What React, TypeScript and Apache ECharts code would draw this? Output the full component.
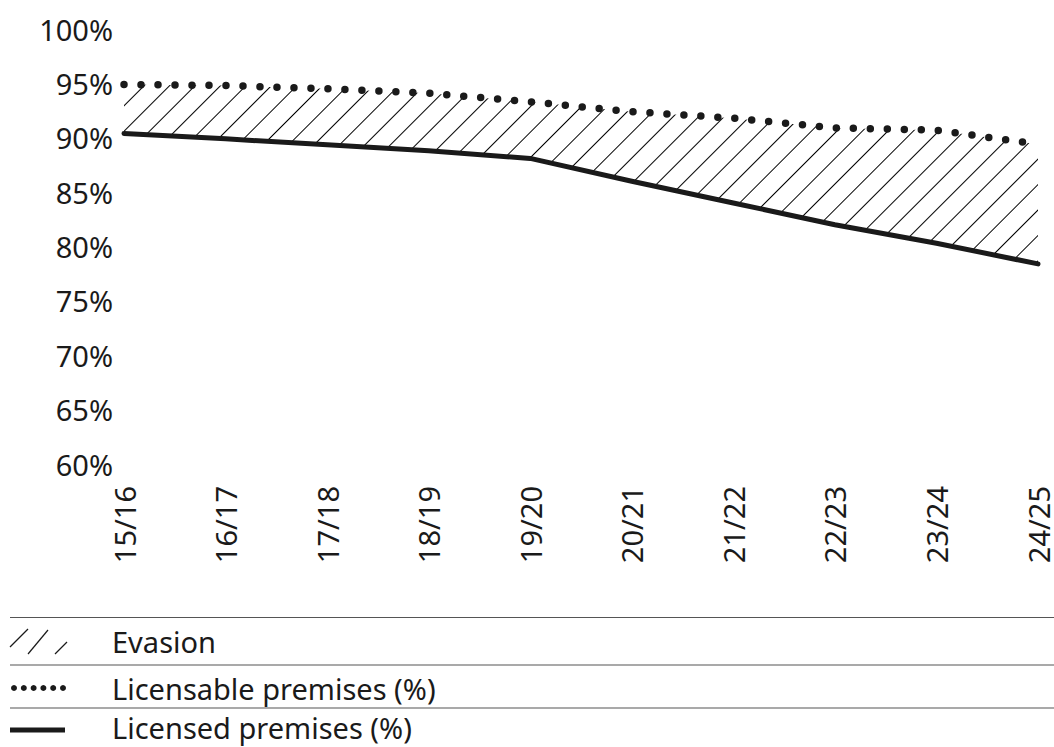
import React, { useEffect, useRef } from "react";
import * as echarts from "echarts";

const categories = ["15/16", "16/17", "17/18", "18/19", "19/20", "20/21", "21/22", "22/23", "23/24", "24/25"];
const licensable = [94.9, 94.8, 94.5, 94.1, 93.3, 92.4, 91.8, 90.9, 90.7, 89.4];
const licensed = [90.4, 89.9, 89.35, 88.8, 88.1, 86.0, 84.0, 82.0, 80.3, 78.4];
const legendLabels = ["Evasion", "Licensable premises (%)", "Licensed premises (%)"];

const FONT = "'Noto Sans', 'Open Sans', sans-serif";
const INK = "#1a1a1a";

export default function App() {
  const ref = useRef<HTMLDivElement>(null);
  useEffect(() => {
    document.body.style.margin = "0";
    const chart = echarts.init(ref.current!, null, { renderer: "svg" });
    const gap = licensable.map((v, i) => Math.round((v - licensed[i]) * 100) / 100);
    const legendY = [641, 688, 730];
    const legendTextY = [641, 688, 727.5];
    const sepY = [617.5, 665, 708];
    const graphics: any[] = [];
    sepY.forEach((y) =>
      graphics.push({ type: "line", shape: { x1: 10, y1: y, x2: 1054, y2: y }, style: { stroke: "#555", lineWidth: 1.2 } })
    );
    // hatch symbol
    graphics.push({ type: "line", shape: { x1: 10, y1: 647, x2: 28, y2: 629 }, style: { stroke: INK, lineWidth: 1.2 } });
    graphics.push({ type: "line", shape: { x1: 28, y1: 654, x2: 48, y2: 630 }, style: { stroke: INK, lineWidth: 1.2 } });
    graphics.push({ type: "line", shape: { x1: 55, y1: 654, x2: 67, y2: 642 }, style: { stroke: INK, lineWidth: 1.2 } });
    // dots symbol
    for (let i = 0; i < 6; i++) {
      graphics.push({ type: "circle", shape: { cx: 14 + i * 9.8, cy: legendY[1], r: 3 }, style: { fill: INK } });
    }
    // solid symbol
    graphics.push({ type: "rect", shape: { x: 10, y: legendY[2] - 2.5, width: 55, height: 5 }, style: { fill: INK } });
    legendLabels.forEach((t, i) =>
      graphics.push({
        type: "text",
        x: 112,
        y: legendTextY[i],
        style: { text: t, fontSize: 29, fontFamily: FONT, fill: INK, verticalAlign: "middle", align: "left" },
      })
    );

    chart.setOption({
      animation: false,
      backgroundColor: "#fff",
      grid: { left: 124, right: 16, top: 29, bottom: 283, containLabel: false },
      xAxis: {
        type: "category",
        data: categories,
        boundaryGap: false,
        axisLine: { show: false },
        axisTick: { show: false },
        splitLine: { show: false },
        axisLabel: { rotate: 90, margin: 22, fontSize: 29, lineHeight: 20, fontFamily: FONT, color: INK },
      },
      yAxis: {
        type: "value",
        min: 60,
        max: 100,
        interval: 5,
        axisLine: { show: false },
        axisTick: { show: false },
        splitLine: { show: false },
        axisLabel: { formatter: "{value}%", margin: 11, fontSize: 29, fontFamily: FONT, color: INK },
      },
      series: [
        {
          name: "base",
          type: "line",
          stack: "g",
          data: licensed,
          symbol: "none",
          lineStyle: { width: 0 },
          silent: true,
        },
        {
          name: "Evasion",
          type: "line",
          stack: "g",
          data: gap,
          symbol: "none",
          lineStyle: { width: 0 },
          areaStyle: { color: "#ffffff", opacity: 1 },
          itemStyle: {
            color: "#ffffff",
            decal: {
              symbol: "rect",
              symbolSize: 1,
              color: "#000",
              dashArrayX: [1, 0],
              dashArrayY: [1, 17],
              rotation: -Math.PI / 4,
            },
          },
          silent: true,
        },
        {
          name: "Licensable premises (%)",
          type: "line",
          data: licensable,
          symbol: "none",
          lineStyle: { width: 7.5, color: INK, type: [0, 17], cap: "round" },
        },
        {
          name: "Licensed premises (%)",
          type: "line",
          data: licensed,
          symbol: "none",
          lineStyle: { width: 5, color: INK, cap: "round", join: "round" },
        },
      ],
      graphic: graphics,
    });
    return () => chart.dispose();
  }, []);
  return <div ref={ref} style={{ width: 1054, height: 747 }} />;
}
